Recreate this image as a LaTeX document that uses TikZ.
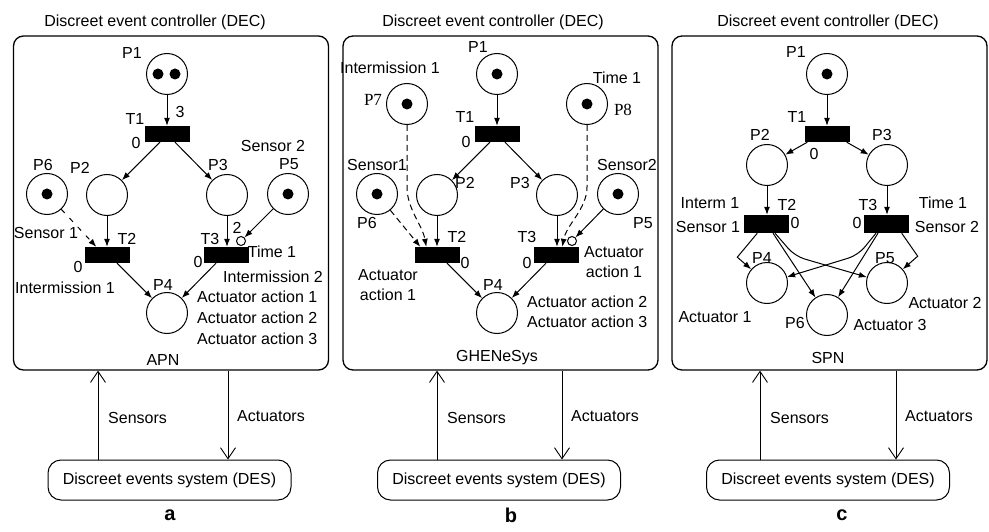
\documentclass[tikz,border=0pt]{standalone}
\usepackage{fontspec}
\setmainfont{Liberation Sans}
\newfontfamily\serifP{Liberation Serif}
\usetikzlibrary{calc,positioning,arrows.meta}

\tikzset{
  place/.style={circle,draw=black,line width=1pt,minimum size=41pt,inner sep=0pt},
  token/.style={circle,fill=black,minimum size=11pt,inner sep=0pt},
  trans/.style={rectangle,fill=black,minimum width=45pt,minimum height=16pt,inner sep=0pt},
  inhib/.style={circle,draw=black,line width=1pt,minimum size=9pt,inner sep=0pt},
  lbl/.style={inner sep=0pt},
  arc/.style={-{Latex[length=8pt,width=6pt]},line width=1pt},
  gate/.style={arc,dash pattern=on 6pt off 4pt},
  sig/.style={-{Straight Barb[length=11pt,width=15pt,line width=0.9pt]},line width=0.9pt},
  decbox/.style={draw=black,rounded corners=10pt,line width=1.3pt,minimum width=315pt,minimum height=334pt},
  desbox/.style={draw=black,rounded corners=13pt,line width=1pt,minimum width=243pt,minimum height=40pt,inner sep=0pt},
}

\begin{document}
\begin{tikzpicture}[x=1pt,y=-1pt,font=\fontsize{16}{20}\selectfont]
  \useasboundingbox (0,0) rectangle (989,532);

  %% controller box, plant and signals of each panel
  \foreach \k/\x/\tx/\sx/\ax/\lx in {a/171/155/98/228/170, b/500.5/493/437/562/511, c/829.5/828/760/896/842}
           {
             \node (dec_\k) [decbox] at (\x,203) {};
             \node (title_\k) [lbl] at (\tx,22) {Discreet event controller (DEC)};
             \node (des_\k) [desbox] at (\x-1.5,480) {Discreet events system (DES)};
             \coordinate (sen_\k) at (\sx,0);
             \coordinate (act_\k) at (\ax,0);
             \draw[sig] (sen_\k |- des_\k.north) -- (sen_\k |- dec_\k.south);
             \draw[sig] (act_\k |- dec_\k.south) -- (act_\k |- des_\k.north);
             \node (sl_\k) [lbl,anchor=west] at (\sx+10,418) {Sensors};
             \node (al_\k) [lbl,anchor=west] at (\ax+9,416) {Actuators};
             \node (tag_\k) [lbl,font=\fontsize{20}{24}\selectfont\bfseries] at (\lx,515) {\k};
           }

  %% panel a: APN
  \node (P1_a) [place] at (167,74) {};
  \node (K1_a) [token] at (158,74) {};
  \node (K2_a) [token] at (175,74) {};
  \node (T1_a) [trans] at (167,134) {};
  \node (P2_a) [place] at (107,195) {};
  \node (P3_a) [place] at (227,195) {};
  \node (P6_a) [place] at (47,194) {};
  \node (K6_a) [token] at (P6_a) {};
  \node (P5_a) [place] at (288,194) {};
  \node (K5_a) [token] at (P5_a) {};
  \node (T2_a) [trans] at (107,255) {};
  \node (T3_a) [trans] at (226,255) {};
  \node (I3_a) [inhib] at (241,241) {};
  \node (P4_a) [place] at (167,313) {};

  \node (lP1_a) [lbl] at (132,53) {P1};
  \node (lT1_a) [lbl] at (135,119) {T1};
  \node (lz1_a) [lbl] at (136,143) {0};
  \node (lw1_a) [lbl] at (180,112) {3};
  \node (lP6_a) [lbl] at (43,165) {P6};
  \node (lP2_a) [lbl] at (80,168) {P2};
  \node (lP3_a) [lbl] at (218,165) {P3};
  \node (lP5_a) [lbl] at (289,164) {P5};
  \node (ls2_a) [lbl] at (273,146) {Sensor 2};
  \node (ls1_a) [lbl] at (46,233) {Sensor 1};
  \node (lT2_a) [lbl] at (127,239) {T2};
  \node (lz2_a) [lbl] at (78,267) {0};
  \node (lT3_a) [lbl] at (210,239) {T3};
  \node (lz3_a) [lbl] at (198,262) {0};
  \node (lw3_a) [lbl] at (237,228) {2};
  \node (li1_a) [lbl] at (65,288) {Intermission 1};
  \node (lt1_a) [lbl] at (272,252) {Time 1};
  \node (li2_a) [lbl] at (273,277) {Intermission 2};
  \node (lP4_a) [lbl] at (163,285) {P4};
  \node (la1_a) [lbl,anchor=west] at (197,297) {Actuator action 1};
  \node (la2_a) [lbl,anchor=west] at (197,318) {Actuator action 2};
  \node (la3_a) [lbl,anchor=west] at (197,339) {Actuator action 3};
  \node (nm_a) [lbl] at (163,360) {APN};

  \draw[arc] (P1_a) -- (T1_a);
  \draw[arc] ($(T1_a.south)+(-7,0)$) -- (P2_a);
  \draw[arc] ($(T1_a.south)+(8,0)$) -- (P3_a);
  \draw[arc] (P2_a) -- (T2_a);
  \draw[arc] (P3_a.south) -- (P3_a |- T3_a.north);
  \draw[gate,dash pattern=on 5pt off 7pt] (P6_a) -- ($(T2_a.north west)+(12,0)$);
  \draw[arc] (P5_a) -- (I3_a);
  \draw[arc] ($(T2_a.south)+(10,0)$) -- (P4_a);
  \draw[arc] ($(T3_a.south)+(-10,0)$) -- (P4_a);

  %% panel b: GHENeSys
  \node (P1_b) [place] at (497,74) {};
  \node (K1_b) [token] at (P1_b) {};
  \node (P7_b) [place] at (407,104) {};
  \node (K7_b) [token] at (P7_b) {};
  \node (P8_b) [place] at (587,104) {};
  \node (K8_b) [token] at (P8_b) {};
  \node (T1_b) [trans] at (497,134) {};
  \node (P2_b) [place] at (437,195) {};
  \node (P3_b) [place] at (557,195) {};
  \node (P6_b) [place] at (377,194) {};
  \node (K6_b) [token] at (P6_b) {};
  \node (P5_b) [place] at (618,194) {};
  \node (K5_b) [token] at (P5_b) {};
  \node (T2_b) [trans] at (437,255) {};
  \node (T3_b) [trans] at (556,255) {};
  \node (I3_b) [inhib] at (572,241) {};
  \node (P4_b) [place] at (497,313) {};

  \node (lP1_b) [lbl] at (478,47) {P1};
  \node (li1_b) [lbl] at (390,68) {Intermission 1};
  \node (lP7_b) [lbl,font=\fontsize{17}{20}\selectfont\serifP] at (373,100) {P7};
  \node (lt1_b) [lbl] at (617,78) {Time 1};
  \node (lP8_b) [lbl,font=\fontsize{17}{20}\selectfont\serifP] at (623,110) {P8};
  \node (lT1_b) [lbl] at (465,117) {T1};
  \node (lz1_b) [lbl] at (466,142) {0};
  \node (ls1_b) [lbl] at (377,165) {Sensor1};
  \node (ls2_b) [lbl] at (627,165) {Sensor2};
  \node (lP2_b) [lbl] at (465,183) {P2};
  \node (lP3_b) [lbl] at (520,183) {P3};
  \node (lP6_b) [lbl] at (367,223) {P6};
  \node (lP5_b) [lbl] at (643,223) {P5};
  \node (lT2_b) [lbl] at (457,237) {T2};
  \node (lz2_b) [lbl] at (465,263) {0};
  \node (lT3_b) [lbl] at (527,237) {T3};
  \node (lz3_b) [lbl] at (527,263) {0};
  \node (la1_b) [lbl,align=center] at (388,285) {Actuator\\action 1};
  \node (lb1_b) [lbl,align=center] at (614,262) {Actuator\\action 1};
  \node (lP4_b) [lbl] at (493,285) {P4};
  \node (la2_b) [lbl,anchor=west] at (527,302) {Actuator action 2};
  \node (la3_b) [lbl,anchor=west] at (527,322) {Actuator action 3};
  \node (nm_b) [lbl] at (497,358) {GHENeSys};

  \draw[arc] (P1_b) -- (T1_b);
  \draw[arc] ($(T1_b.south)+(-7,0)$) -- (P2_b);
  \draw[arc] ($(T1_b.south)+(8,0)$) -- (P3_b);
  \draw[arc] (P2_b) -- (T2_b);
  \draw[arc] (P3_b.south) -- (P3_b |- T3_b.north);
  \draw[gate] (P6_b) -- ($(T2_b.north west)+(6,0)$);
  \draw[gate] (P7_b.south) -- ++(0,62) .. controls +(0,22) and +(-4,-22) .. ($(T2_b.north west)+(12,0)$);
  \draw[gate] (P8_b.south) -- ++(0,62) .. controls +(0,22) and +(4,-22) .. ($(T3_b.north west)+(29,0)$);
  \draw[arc] (P5_b) -- (I3_b);
  \draw[arc] ($(T2_b.south)+(10,0)$) -- (P4_b);
  \draw[arc] ($(T3_b.south)+(-10,0)$) -- (P4_b);

  %% panel c: SPN
  \node (P1_c) [place] at (827,74) {};
  \node (K1_c) [token] at (P1_c) {};
  \node (T1_c) [trans] at (827,134) {};
  \node (P2_c) [place] at (767,165) {};
  \node (P3_c) [place] at (887,165) {};
  \node (T2_c) [trans,minimum height=18pt] at (766,224) {};
  \node (T3_c) [trans,minimum height=18pt] at (886,224) {};
  \node (P4_c) [place] at (767,283) {};
  \node (P5_c) [place] at (887,283) {};
  \node (P6_c) [place] at (827,315) {};

  \node (lP1_c) [lbl] at (796,52) {P1};
  \node (lT1_c) [lbl] at (797,117) {T1};
  \node (lz1_c) [lbl] at (814,154) {0};
  \node (lP2_c) [lbl] at (760,135) {P2};
  \node (lP3_c) [lbl] at (882,135) {P3};
  \node (li1_c) [lbl] at (710,203) {Interm 1};
  \node (ls1_c) [lbl] at (708,227) {Sensor 1};
  \node (lT2_c) [lbl] at (787,205) {T2};
  \node (lz2_c) [lbl] at (795,223) {0};
  \node (lT3_c) [lbl] at (868,205) {T3};
  \node (lz3_c) [lbl] at (857,223) {0};
  \node (lt1_c) [lbl] at (943,203) {Time 1};
  \node (ls2_c) [lbl] at (947,227) {Sensor 2};
  \node (lP4_c) [lbl] at (762,258) {P4};
  \node (lP5_c) [lbl] at (885,258) {P5};
  \node (lP6_c) [lbl] at (795,323) {P6};
  \node (la1_c) [lbl] at (715,317) {Actuator 1};
  \node (la2_c) [lbl] at (945,303) {Actuator 2};
  \node (la3_c) [lbl] at (890,325) {Actuator 3};
  \node (nm_c) [lbl] at (828,358) {SPN};

  \draw[arc] (P1_c) -- (T1_c);
  \draw[arc] ($(T1_c.south west)+(3,0)$) -- (P2_c);
  \draw[arc] ($(T1_c.south east)+(-3,0)$) -- (P3_c);
  \draw[arc] (P2_c.south) -- (P2_c |- T2_c.north);
  \draw[arc] (P3_c.south) -- (P3_c |- T3_c.north);
  \draw[arc] ($(T2_c.south west)+(14,0)$) -- ++(-20,24) -- (P4_c);
  \draw[arc] ($(T2_c.south)+(7,0)$) -- (P6_c);
  \draw[arc,rounded corners=10pt] ($(T2_c.south)+(9,0)$) -- ++(20,23) -- (P5_c);
  \draw[arc] ($(T3_c.south east)+(-7,0)$) -- ++(16,23) -- (P5_c);
  \draw[arc] ($(T3_c.south)+(-8,0)$) -- (P6_c);
  \draw[arc,rounded corners=10pt] ($(T3_c.south)+(-10,0)$) -- ++(-18,22) -- (P4_c);

\end{tikzpicture}
\end{document}
